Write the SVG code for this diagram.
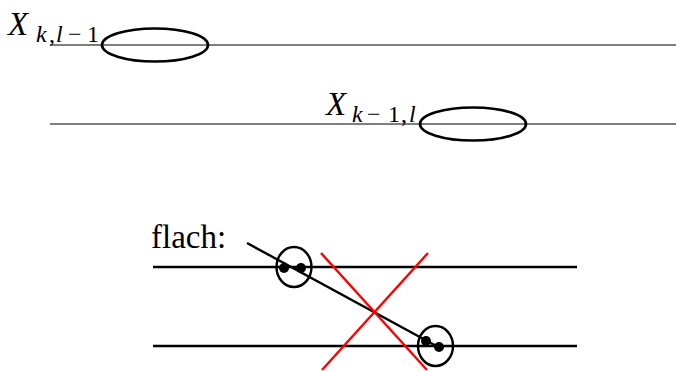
<svg xmlns="http://www.w3.org/2000/svg" width="676" height="371" viewBox="0 0 676 371">
<style>
.thin{stroke:#000;stroke-width:1.2;fill:none}
.thick{stroke:#000;stroke-width:2.4;fill:none}
.ell{stroke:#000;stroke-width:2.6;fill:none}
.red{stroke:#f00;stroke-width:2.4;fill:none}
.lbl{font-family:"Liberation Serif",serif;font-style:italic;font-size:33px;fill:#000}
.sub{font-family:"Liberation Serif",serif;font-size:24px;fill:#000}
.txt{font-family:"Liberation Serif",serif;font-size:33px;fill:#000}
</style>
<rect width="676" height="371" fill="#fff"/>
<g id="connectors">
<line class="thin" x1="50" y1="45" x2="676" y2="45"/>
<line class="thin" x1="50" y1="124" x2="676" y2="124"/>
<line class="thick" x1="153" y1="267" x2="577" y2="267"/>
<line class="thick" x1="153" y1="346" x2="577" y2="346"/>
<line class="thick" x1="247" y1="243" x2="440" y2="348"/>
<line class="red" x1="321" y1="253" x2="427" y2="370"/>
<line class="red" x1="428" y1="253" x2="322" y2="370"/>
</g>
<g id="node-top">
<ellipse class="ell" cx="155" cy="45" rx="53" ry="16.5"/>
<text class="lbl" x="8" y="35">X</text>
<text class="sub" y="42"><tspan x="36" font-style="italic">k</tspan><tspan x="49">,</tspan><tspan x="56" font-style="italic">l</tspan><tspan x="68">−</tspan><tspan x="87">1</tspan></text>
</g>
<g id="node-mid">
<ellipse class="ell" cx="473" cy="124" rx="53" ry="16.5"/>
<text class="lbl" x="326" y="115">X</text>
<text class="sub" y="122"><tspan x="352" font-style="italic">k</tspan><tspan x="367">−</tspan><tspan x="388">1</tspan><tspan x="401">,</tspan><tspan x="409" font-style="italic">l</tspan></text>
</g>
<g id="node-flach">
<text class="txt" x="151" y="248">flach:</text>
</g>
<g id="node-pair1">
<ellipse class="thick" cx="294" cy="267" rx="17.5" ry="20"/>
<circle cx="284" cy="268" r="5" fill="#000"/>
<circle cx="301" cy="268" r="5" fill="#000"/>
</g>
<g id="node-pair2">
<ellipse class="thick" cx="435.5" cy="346" rx="17.5" ry="20"/>
<circle cx="426" cy="341" r="5" fill="#000"/>
<circle cx="439" cy="347" r="5" fill="#000"/>
</g>
</svg>
